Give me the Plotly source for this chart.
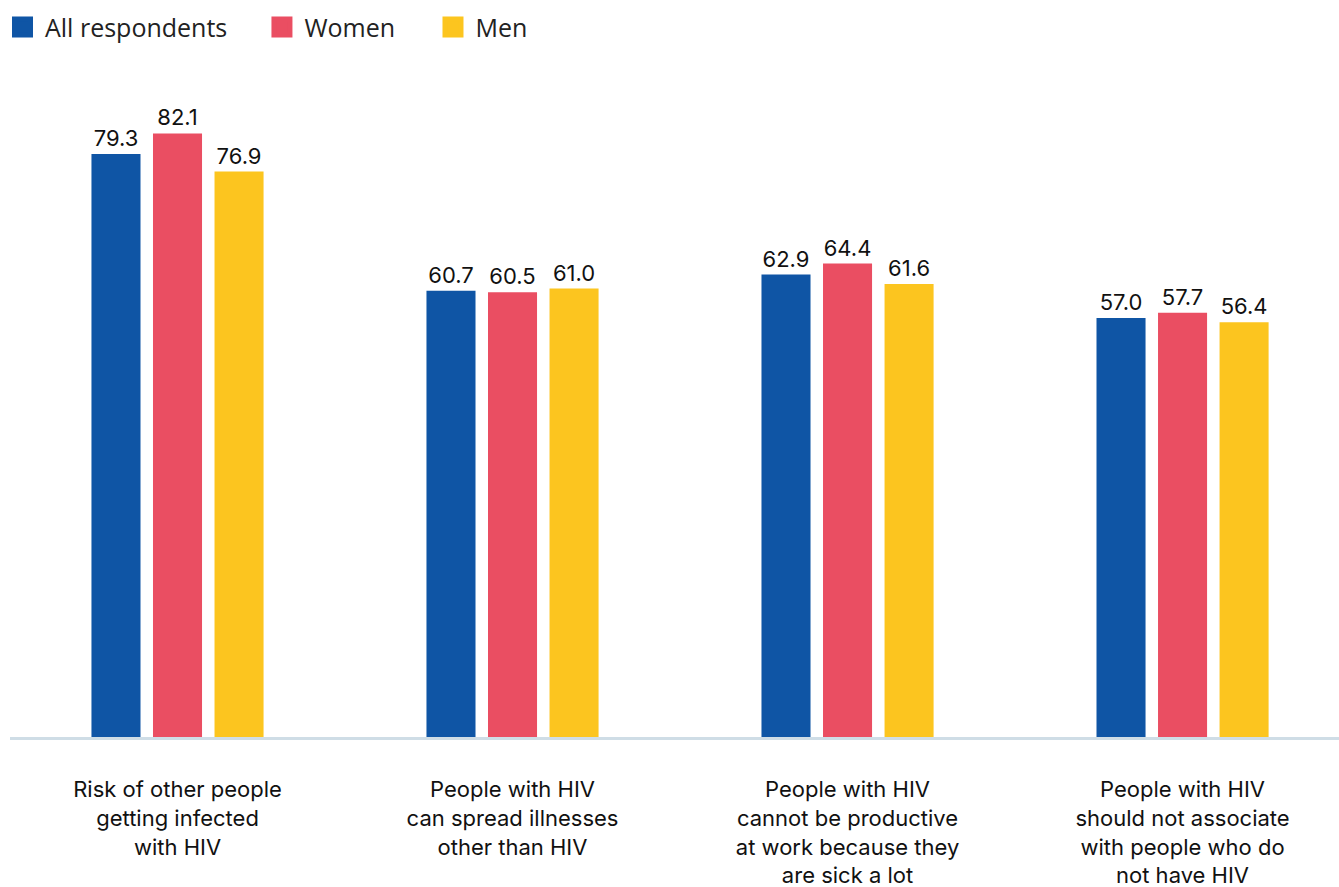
import plotly.graph_objects as go

categories = [
    "Risk of other people<br>getting infected<br>with HIV",
    "People with HIV<br>can spread illnesses<br>other than HIV",
    "People with HIV<br>cannot be productive<br>at work because they<br>are sick a lot",
    "People with HIV<br>should not associate<br>with people who do<br>not have HIV",
]
all_respondents = [79.3, 60.7, 62.9, 57.0]
women = [82.1, 60.5, 64.4, 57.7]
men = [76.9, 61.0, 61.6, 56.4]

series = [
    ("All respondents", all_respondents, "#0F55A5", "legend"),
    ("Women", women, "#EA4E62", "legend2"),
    ("Men", men, "#FCC51F", "legend3"),
]
legend_x = [-0.0087, 0.1877, 0.3164]

fig = go.Figure()
for name, vals, color, lg in series:
    fig.add_trace(go.Bar(
        x=categories, y=vals, name=name, marker=dict(color=color, line=dict(width=0)),
        text=[f"{v:.1f}" for v in vals], textposition="outside",
        textfont=dict(family="Inter, sans-serif", size=22, color="#111111"),
        cliponaxis=False, showlegend=False,
    ))
# legend proxies (larger square symbols)
for name, vals, color, lg in series:
    fig.add_trace(go.Scatter(
        x=[None], y=[None], mode="markers", name=name, legend=lg,
        marker=dict(symbol="square", size=22, color=color, line=dict(color=color, width=5)),
    ))

legend_common = dict(
    orientation="h", xref="paper", xanchor="left",
    yref="container", y=0.9692, yanchor="middle",
    font=dict(family="Open Sans, sans-serif", size=25, color="#222222"),
    itemwidth=35, bgcolor="rgba(0,0,0,0)",
)

fig.update_layout(
    width=1339, height=887,
    paper_bgcolor="white", plot_bgcolor="white",
    margin=dict(l=10, r=0, t=90, b=150),
    barmode="group", bargap=0.449, bargroupgap=0.203,
    legend=dict(x=legend_x[0], **legend_common),
    legend2=dict(x=legend_x[1], **legend_common),
    legend3=dict(x=legend_x[2], **legend_common),
    xaxis=dict(
        range=[-0.5, 3.467], showline=True, linecolor="#CFDDE6", linewidth=3,
        showgrid=False, ticks="", ticklabelstandoff=31,
        tickfont=dict(family="Inter, sans-serif", size=22, color="#111111"),
    ),
    yaxis=dict(range=[0, 88], visible=False, showgrid=False, zeroline=False),
)

fig.write_html(
    "out.html",
    config={"displayModeBar": False},
    post_script="document.body.style.margin='0px';",
)
